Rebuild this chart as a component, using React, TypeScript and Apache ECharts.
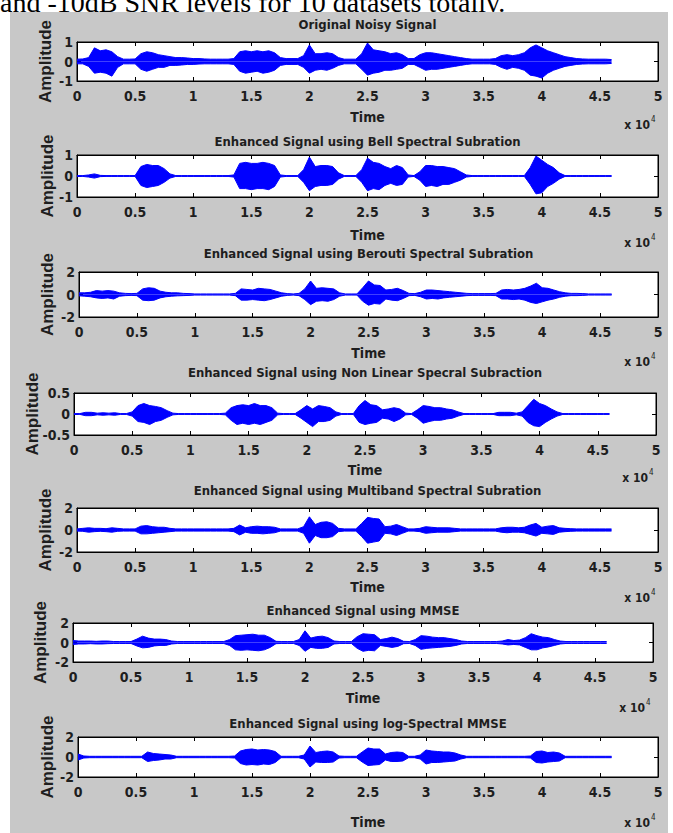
import React, { useEffect, useRef } from "react";
import * as echarts from "echarts";

// Sample grid in units of 10^4 samples (step 0.05 = 500 samples)
const TIME_STEP = 0.05;
const N_POINTS = 93;

const CAPTION = "and -10dB SNR levels for 10 datasets totally.";

const TITLES = [
  "Original Noisy Signal",
  "Enhanced Signal using Bell Spectral Subration",
  "Enhanced Signal using Berouti Spectral Subration",
  "Enhanced Signal using Non Linear Specral Subraction",
  "Enhanced Signal using Multiband Spectral Subration",
  "Enhanced Signal using MMSE",
  "Enhanced Signal using log-Spectral MMSE",
];

// [min, max, interval] of each amplitude axis
const Y_RANGES = [
  [-1, 1, 1],
  [-1, 1, 1],
  [-2, 2, 2],
  [-0.5, 0.5, 0.5],
  [-2, 2, 2],
  [-2, 2, 2],
  [-2, 2, 2],
];

// Upper / lower envelopes of each waveform
const U1 = [
  0.12, 0.13, 0.2, 0.7, 0.55, 0.6, 0.5, 0.25, 0.12, 0.12,
  0.13, 0.4, 0.5, 0.45, 0.35, 0.3, 0.25, 0.2, 0.2, 0.18,
  0.15, 0.15, 0.13, 0.12, 0.12, 0.12, 0.12, 0.15, 0.5, 0.55,
  0.5, 0.55, 0.5, 0.55, 0.45, 0.2, 0.15, 0.15, 0.15, 0.3,
  0.85, 0.4, 0.4, 0.45, 0.4, 0.2, 0.12, 0.12, 0.12, 0.4,
  0.95, 0.6, 0.55, 0.5, 0.4, 0.45, 0.35, 0.15, 0.15, 0.35,
  0.45, 0.45, 0.4, 0.35, 0.3, 0.25, 0.2, 0.15, 0.12, 0.12,
  0.12, 0.12, 0.15, 0.3, 0.35, 0.3, 0.35, 0.45, 0.7, 0.85,
  0.7, 0.55, 0.45, 0.35, 0.25, 0.2, 0.15, 0.13, 0.12, 0.12,
  0.12, 0.12, 0.1,
];
const L1 = [
  -0.12, -0.12, -0.25, -0.6, -0.55, -0.6, -0.75, -0.3, -0.12, -0.12,
  -0.12, -0.4, -0.5, -0.4, -0.3, -0.3, -0.2, -0.2, -0.18, -0.15,
  -0.15, -0.13, -0.12, -0.12, -0.12, -0.12, -0.12, -0.15, -0.5, -0.6,
  -0.55, -0.5, -0.6, -0.55, -0.45, -0.2, -0.15, -0.15, -0.15, -0.3,
  -0.6, -0.45, -0.4, -0.45, -0.35, -0.2, -0.12, -0.12, -0.12, -0.4,
  -0.7, -0.6, -0.55, -0.45, -0.45, -0.4, -0.35, -0.15, -0.15, -0.3,
  -0.45, -0.4, -0.4, -0.35, -0.3, -0.25, -0.2, -0.15, -0.12, -0.12,
  -0.12, -0.12, -0.15, -0.3, -0.4, -0.3, -0.35, -0.45, -0.7, -0.75,
  -0.85, -0.6, -0.45, -0.35, -0.25, -0.2, -0.15, -0.13, -0.12, -0.12,
  -0.12, -0.12, -0.1,
];

const U2 = [
  0.02, 0.02, 0.05, 0.1, 0.03, 0.02, 0.02, 0.02, 0.02, 0.02,
  0.02, 0.45, 0.55, 0.5, 0.5, 0.35, 0.1, 0.02, 0.02, 0.02,
  0.02, 0.02, 0.02, 0.02, 0.02, 0.02, 0.02, 0.05, 0.6, 0.65,
  0.6, 0.6, 0.65, 0.6, 0.5, 0.05, 0.02, 0.02, 0.02, 0.3,
  0.9, 0.45, 0.5, 0.5, 0.45, 0.15, 0.02, 0.02, 0.02, 0.3,
  0.85, 0.65, 0.6, 0.45, 0.35, 0.5, 0.4, 0.05, 0.02, 0.2,
  0.5, 0.5, 0.45, 0.45, 0.4, 0.35, 0.2, 0.05, 0.02, 0.02,
  0.02, 0.02, 0.02, 0.02, 0.02, 0.02, 0.02, 0.02, 0.4, 0.95,
  0.75, 0.55, 0.4, 0.15, 0.02, 0.02, 0.02, 0.02, 0.02, 0.02,
  0.02, 0.02, 0.02,
];
const L2 = [
  -0.02, -0.02, -0.05, -0.1, -0.03, -0.02, -0.02, -0.02, -0.02, -0.02,
  -0.02, -0.45, -0.55, -0.5, -0.45, -0.3, -0.1, -0.02, -0.02, -0.02,
  -0.02, -0.02, -0.02, -0.02, -0.02, -0.02, -0.02, -0.05, -0.6, -0.6,
  -0.65, -0.6, -0.6, -0.65, -0.5, -0.05, -0.02, -0.02, -0.02, -0.3,
  -0.7, -0.5, -0.45, -0.45, -0.4, -0.15, -0.02, -0.02, -0.02, -0.3,
  -0.7, -0.6, -0.65, -0.45, -0.35, -0.45, -0.4, -0.05, -0.02, -0.2,
  -0.5, -0.45, -0.5, -0.4, -0.4, -0.3, -0.2, -0.05, -0.02, -0.02,
  -0.02, -0.02, -0.02, -0.02, -0.02, -0.02, -0.02, -0.02, -0.4, -0.85,
  -0.8, -0.5, -0.35, -0.15, -0.02, -0.02, -0.02, -0.02, -0.02, -0.02,
  -0.02, -0.02, -0.02,
];

const U3 = [
  0.15, 0.15, 0.2, 0.35, 0.3, 0.35, 0.3, 0.15, 0.1, 0.08,
  0.1, 0.5, 0.6, 0.55, 0.3, 0.2, 0.15, 0.15, 0.1, 0.08,
  0.05, 0.05, 0.05, 0.05, 0.05, 0.05, 0.05, 0.1, 0.5, 0.45,
  0.4, 0.55, 0.5, 0.45, 0.3, 0.15, 0.08, 0.05, 0.1, 0.5,
  1.2, 0.55, 0.6, 0.55, 0.5, 0.15, 0.05, 0.05, 0.05, 0.6,
  1.2, 0.85, 0.8, 0.4, 0.45, 0.55, 0.35, 0.1, 0.08, 0.2,
  0.4, 0.4, 0.35, 0.3, 0.25, 0.2, 0.15, 0.1, 0.08, 0.08,
  0.08, 0.08, 0.1, 0.4, 0.45, 0.4, 0.45, 0.55, 0.75, 1.0,
  0.6, 0.55, 0.4, 0.25, 0.15, 0.1, 0.1, 0.08, 0.05, 0.05,
  0.05, 0.05, 0.05,
];
const L3 = [
  -0.12, -0.15, -0.2, -0.3, -0.35, -0.3, -0.4, -0.15, -0.1, -0.08,
  -0.1, -0.5, -0.55, -0.5, -0.3, -0.2, -0.15, -0.12, -0.1, -0.08,
  -0.05, -0.05, -0.05, -0.05, -0.05, -0.05, -0.05, -0.1, -0.5, -0.5,
  -0.45, -0.5, -0.55, -0.45, -0.3, -0.15, -0.08, -0.05, -0.1, -0.45,
  -0.9, -0.6, -0.55, -0.6, -0.45, -0.15, -0.05, -0.05, -0.05, -0.6,
  -0.95, -0.8, -0.85, -0.4, -0.5, -0.55, -0.35, -0.1, -0.08, -0.2,
  -0.4, -0.35, -0.4, -0.3, -0.25, -0.2, -0.15, -0.1, -0.08, -0.08,
  -0.08, -0.08, -0.1, -0.4, -0.4, -0.45, -0.4, -0.5, -0.7, -0.8,
  -0.65, -0.5, -0.4, -0.25, -0.15, -0.1, -0.1, -0.08, -0.05, -0.05,
  -0.05, -0.05, -0.05,
];

const U4 = [
  0.01, 0.01, 0.04, 0.04, 0.02, 0.03, 0.02, 0.03, 0.01, 0.01,
  0.05, 0.2, 0.25, 0.2, 0.18, 0.15, 0.08, 0.02, 0.01, 0.01,
  0.01, 0.01, 0.01, 0.01, 0.01, 0.01, 0.02, 0.15, 0.2, 0.22,
  0.2, 0.25, 0.2, 0.2, 0.15, 0.02, 0.01, 0.01, 0.01, 0.1,
  0.2, 0.12, 0.2, 0.18, 0.15, 0.05, 0.01, 0.01, 0.01, 0.2,
  0.32, 0.22, 0.2, 0.1, 0.12, 0.15, 0.12, 0.02, 0.01, 0.1,
  0.2, 0.18, 0.15, 0.15, 0.12, 0.1, 0.05, 0.01, 0.01, 0.01,
  0.01, 0.01, 0.01, 0.04, 0.04, 0.04, 0.02, 0.05, 0.2, 0.35,
  0.25, 0.2, 0.12, 0.05, 0.01, 0.01, 0.01, 0.01, 0.01, 0.01,
  0.01, 0.01, 0.01,
];
const L4 = [
  -0.01, -0.01, -0.04, -0.04, -0.02, -0.03, -0.02, -0.03, -0.01, -0.01,
  -0.05, -0.18, -0.2, -0.25, -0.18, -0.15, -0.08, -0.02, -0.01, -0.01,
  -0.01, -0.01, -0.01, -0.01, -0.01, -0.01, -0.02, -0.15, -0.25, -0.22,
  -0.25, -0.22, -0.25, -0.2, -0.15, -0.02, -0.01, -0.01, -0.01, -0.1,
  -0.2, -0.3, -0.18, -0.18, -0.15, -0.05, -0.01, -0.01, -0.01, -0.2,
  -0.25, -0.22, -0.2, -0.1, -0.12, -0.18, -0.12, -0.02, -0.01, -0.1,
  -0.22, -0.18, -0.15, -0.15, -0.12, -0.1, -0.05, -0.01, -0.01, -0.01,
  -0.01, -0.01, -0.01, -0.04, -0.04, -0.04, -0.02, -0.05, -0.2, -0.28,
  -0.3, -0.2, -0.12, -0.05, -0.01, -0.01, -0.01, -0.01, -0.01, -0.01,
  -0.01, -0.01, -0.01,
];

const U5 = [
  0.1, 0.15, 0.2, 0.15, 0.15, 0.12, 0.2, 0.15, 0.1, 0.1,
  0.1, 0.35, 0.4, 0.3, 0.25, 0.25, 0.15, 0.1, 0.1, 0.1,
  0.1, 0.1, 0.1, 0.1, 0.1, 0.1, 0.1, 0.15, 0.45, 0.2,
  0.3, 0.35, 0.3, 0.3, 0.25, 0.1, 0.1, 0.1, 0.1, 0.3,
  1.2, 0.5, 0.7, 0.75, 0.6, 0.15, 0.1, 0.1, 0.1, 0.6,
  1.15, 1.05, 1.0, 0.3, 0.35, 0.5, 0.3, 0.1, 0.1, 0.15,
  0.3, 0.25, 0.2, 0.2, 0.2, 0.15, 0.1, 0.1, 0.1, 0.1,
  0.1, 0.1, 0.1, 0.2, 0.25, 0.25, 0.2, 0.25, 0.45, 0.6,
  0.25, 0.35, 0.4, 0.2, 0.15, 0.12, 0.1, 0.1, 0.1, 0.1,
  0.1, 0.1, 0.1,
];
const L5 = [
  -0.1, -0.12, -0.2, -0.15, -0.12, -0.15, -0.2, -0.12, -0.1, -0.1,
  -0.1, -0.35, -0.35, -0.3, -0.25, -0.2, -0.15, -0.1, -0.1, -0.1,
  -0.1, -0.1, -0.1, -0.1, -0.1, -0.1, -0.1, -0.15, -0.45, -0.2,
  -0.3, -0.3, -0.35, -0.3, -0.25, -0.1, -0.1, -0.1, -0.1, -0.3,
  -1.2, -0.5, -0.7, -0.7, -0.6, -0.15, -0.1, -0.1, -0.1, -0.6,
  -1.2, -1.1, -1.0, -0.3, -0.35, -0.5, -0.3, -0.1, -0.1, -0.15,
  -0.3, -0.25, -0.2, -0.2, -0.2, -0.15, -0.1, -0.1, -0.1, -0.1,
  -0.1, -0.1, -0.1, -0.2, -0.25, -0.2, -0.2, -0.25, -0.4, -0.55,
  -0.3, -0.35, -0.4, -0.2, -0.15, -0.12, -0.1, -0.1, -0.1, -0.1,
  -0.1, -0.1, -0.1,
];

const U6 = [
  0.2, 0.15, 0.15, 0.15, 0.12, 0.15, 0.15, 0.1, 0.1, 0.1,
  0.1, 0.35, 0.65, 0.45, 0.35, 0.35, 0.3, 0.15, 0.1, 0.1,
  0.1, 0.1, 0.1, 0.1, 0.1, 0.1, 0.1, 0.3, 0.7, 0.75,
  0.8, 0.85, 0.75, 0.75, 0.5, 0.12, 0.1, 0.1, 0.1, 0.3,
  1.2, 0.45, 0.6, 0.65, 0.5, 0.15, 0.1, 0.1, 0.1, 0.6,
  0.9, 0.85, 0.8, 0.3, 0.4, 0.55, 0.4, 0.12, 0.1, 0.3,
  0.7, 0.65, 0.55, 0.5, 0.5, 0.4, 0.3, 0.15, 0.1, 0.1,
  0.1, 0.1, 0.1, 0.1, 0.15, 0.3, 0.2, 0.25, 0.5, 0.9,
  0.7, 0.55, 0.5, 0.3, 0.15, 0.1, 0.1, 0.1, 0.1, 0.1,
  0.1, 0.1, 0.1,
];
const L6 = [
  -0.2, -0.15, -0.15, -0.12, -0.15, -0.15, -0.12, -0.1, -0.1, -0.1,
  -0.1, -0.35, -0.55, -0.5, -0.35, -0.3, -0.3, -0.15, -0.1, -0.1,
  -0.1, -0.1, -0.1, -0.1, -0.1, -0.1, -0.1, -0.3, -0.75, -0.8,
  -0.75, -0.8, -0.85, -0.75, -0.5, -0.12, -0.1, -0.1, -0.1, -0.3,
  -0.9, -0.5, -0.6, -0.6, -0.5, -0.15, -0.1, -0.1, -0.1, -0.6,
  -0.9, -0.8, -0.85, -0.3, -0.4, -0.5, -0.4, -0.12, -0.1, -0.3,
  -0.7, -0.6, -0.55, -0.5, -0.45, -0.4, -0.3, -0.15, -0.1, -0.1,
  -0.1, -0.1, -0.1, -0.1, -0.15, -0.25, -0.2, -0.25, -0.5, -0.75,
  -0.75, -0.55, -0.45, -0.3, -0.15, -0.1, -0.1, -0.1, -0.1, -0.1,
  -0.1, -0.1, -0.1,
];

const U7 = [
  0.3, 0.1, 0.07, 0.07, 0.07, 0.07, 0.07, 0.07, 0.07, 0.07,
  0.07, 0.07, 0.5, 0.35, 0.3, 0.25, 0.2, 0.07, 0.07, 0.07,
  0.07, 0.07, 0.07, 0.07, 0.07, 0.07, 0.07, 0.1, 0.6, 0.75,
  0.8, 0.7, 0.75, 0.7, 0.55, 0.07, 0.07, 0.07, 0.07, 0.2,
  1.1, 0.45, 0.55, 0.6, 0.5, 0.1, 0.07, 0.07, 0.07, 0.5,
  0.9, 0.8, 0.8, 0.3, 0.45, 0.5, 0.45, 0.07, 0.07, 0.2,
  0.7, 0.6, 0.55, 0.5, 0.5, 0.4, 0.2, 0.07, 0.07, 0.07,
  0.07, 0.07, 0.07, 0.07, 0.07, 0.07, 0.07, 0.07, 0.1, 0.55,
  0.6, 0.45, 0.5, 0.4, 0.07, 0.07, 0.07, 0.07, 0.07, 0.07,
  0.07, 0.07, 0.07,
];
const L7 = [
  -0.3, -0.1, -0.07, -0.07, -0.07, -0.07, -0.07, -0.07, -0.07, -0.07,
  -0.07, -0.07, -0.45, -0.35, -0.3, -0.2, -0.2, -0.07, -0.07, -0.07,
  -0.07, -0.07, -0.07, -0.07, -0.07, -0.07, -0.07, -0.1, -0.65, -0.8,
  -0.75, -0.8, -0.7, -0.75, -0.55, -0.07, -0.07, -0.07, -0.07, -0.2,
  -1.0, -0.5, -0.55, -0.55, -0.5, -0.1, -0.07, -0.07, -0.07, -0.5,
  -0.85, -0.8, -0.75, -0.3, -0.45, -0.45, -0.4, -0.07, -0.07, -0.2,
  -0.7, -0.55, -0.55, -0.5, -0.45, -0.4, -0.2, -0.07, -0.07, -0.07,
  -0.07, -0.07, -0.07, -0.07, -0.07, -0.07, -0.07, -0.07, -0.1, -0.55,
  -0.6, -0.5, -0.45, -0.4, -0.07, -0.07, -0.07, -0.07, -0.07, -0.07,
  -0.07, -0.07, -0.07,
];

const UPPER = [U1, U2, U3, U4, U5, U6, U7];
const LOWER = [L1, L2, L3, L4, L5, L6, L7];

// Layout (pixels): box edges and label positions of each panel
const LAYOUT = [
  { l: 77, r: 658, t: 42, b: 81, titleY: 24, timeY: 117, expY: 125, ampX: 45 },
  { l: 77, r: 658, t: 155, b: 197, titleY: 141, timeY: 235, expY: 243, ampX: 47 },
  { l: 79, r: 658, t: 272, b: 317, titleY: 253, timeY: 353, expY: 362, ampX: 47 },
  { l: 74, r: 656, t: 393, b: 435, titleY: 372, timeY: 470, expY: 478, ampX: 32 },
  { l: 77, r: 658, t: 508, b: 552, titleY: 490, timeY: 587, expY: 598, ampX: 45 },
  { l: 73, r: 653, t: 623, b: 662, titleY: 610, timeY: 698, expY: 708, ampX: 40 },
  { l: 78, r: 658, t: 737, b: 777, titleY: 723, timeY: 822, expY: 823, ampX: 47 },
];

const BLUE = "#0000ff";
const NARROW = "'DejaVu Sans Condensed', 'Liberation Sans', sans-serif";
const TXT = "#1e1e1e";

export default function App() {
  const ref = useRef<HTMLDivElement>(null);

  useEffect(() => {
    if (!ref.current) return;
    const chart = echarts.init(ref.current, undefined, { renderer: "svg" });
    const time: number[] = [];
    for (let k = 0; k < N_POINTS; k++) time.push(Math.round(k * TIME_STEP * 100) / 100);

    const grid: any[] = [];
    const xAxis: any[] = [];
    const yAxis: any[] = [];
    const series: any[] = [];
    const graphic: any[] = [
      { type: "text", z: -20, x: 0, y: 16, style: { text: CAPTION, fontFamily: "'Liberation Serif', serif", fontSize: 28, fill: "#000", textVerticalAlign: "bottom", textAlign: "left" } },
      { type: "rect", z: -10, shape: { x: 10, y: 12, width: 658, height: 821 }, style: { fill: "#c8c8c8" } },
    ];

    const tick = { show: true, inside: true, length: 4, lineStyle: { color: "#000", width: 1 } };
    const line = { show: true, onZero: false, lineStyle: { color: "#000", width: 1 } };
    const lab = { color: TXT, fontFamily: NARROW, fontWeight: "bold", fontSize: 14 };

    LAYOUT.forEach((p, i) => {
      const [ymin, ymax, yint] = Y_RANGES[i];
      grid.push({ left: p.l, top: p.t, width: p.r - p.l, height: p.b - p.t, show: true, backgroundColor: "#fff", borderColor: "#000", borderWidth: 1 });
      xAxis.push({ gridIndex: i, type: "value", min: 0, max: 5, interval: 0.5, position: "bottom", axisLine: line, axisTick: tick, splitLine: { show: false }, axisLabel: { ...lab, margin: 8, formatter: (v: number) => String(v) } });
      xAxis.push({ gridIndex: i, type: "value", min: 0, max: 5, interval: 0.5, position: "top", axisLine: line, axisTick: tick, splitLine: { show: false }, axisLabel: { show: false } });
      yAxis.push({ gridIndex: i, type: "value", min: ymin, max: ymax, interval: yint, position: "left", axisLine: line, axisTick: tick, splitLine: { show: false }, axisLabel: { ...lab, margin: 4, formatter: (v: number) => String(v) } });
      yAxis.push({ gridIndex: i, type: "value", min: ymin, max: ymax, interval: yint, position: "right", axisLine: line, axisTick: tick, splitLine: { show: false }, axisLabel: { show: false } });
      const common = { type: "line", xAxisIndex: 2 * i, yAxisIndex: 2 * i, showSymbol: false, symbol: "none", silent: true, lineStyle: { color: BLUE, width: 1 }, itemStyle: { color: BLUE }, areaStyle: { color: BLUE, opacity: 1 } };
      series.push({ ...common, data: time.map((t, k) => [t, UPPER[i][k]]) });
      series.push({ ...common, data: time.map((t, k) => [t, LOWER[i][k]]) });

      const cx = (p.l + p.r) / 2;
      graphic.push({ type: "text", x: cx, y: p.titleY, style: { text: TITLES[i], fontFamily: NARROW, fontWeight: "bold", fontSize: 13, fill: TXT, textAlign: "center", textVerticalAlign: "middle" } });
      graphic.push({ type: "text", x: cx, y: p.timeY, style: { text: "Time", fontFamily: NARROW, fontWeight: "bold", fontSize: 14, fill: TXT, textAlign: "center", textVerticalAlign: "middle" } });
      graphic.push({ type: "text", x: p.r - 8, y: p.expY, style: { text: "x 10", fontFamily: NARROW, fontWeight: "bold", fontSize: 12, fill: TXT, textAlign: "right", textVerticalAlign: "middle" } });
      graphic.push({ type: "text", x: p.r - 7, y: p.expY - 6, style: { text: "4", fontFamily: NARROW, fontSize: 8, fill: TXT, textAlign: "left", textVerticalAlign: "middle" } });
      graphic.push({ type: "text", x: p.ampX, y: (p.t + p.b) / 2, rotation: Math.PI / 2, style: { text: "Amplitude", fontFamily: "'Liberation Sans', Arial, sans-serif", fontWeight: "bold", fontSize: 17, fill: TXT, textAlign: "center", textVerticalAlign: "middle" } });
    });

    chart.setOption({
      animation: false,
      backgroundColor: "#ffffff",
      grid,
      xAxis,
      yAxis,
      series,
      graphic: { elements: graphic },
    });
    return () => chart.dispose();
  }, []);

  return <div ref={ref} style={{ position: "absolute", left: 0, top: 0, width: 673, height: 833 }} />;
}
